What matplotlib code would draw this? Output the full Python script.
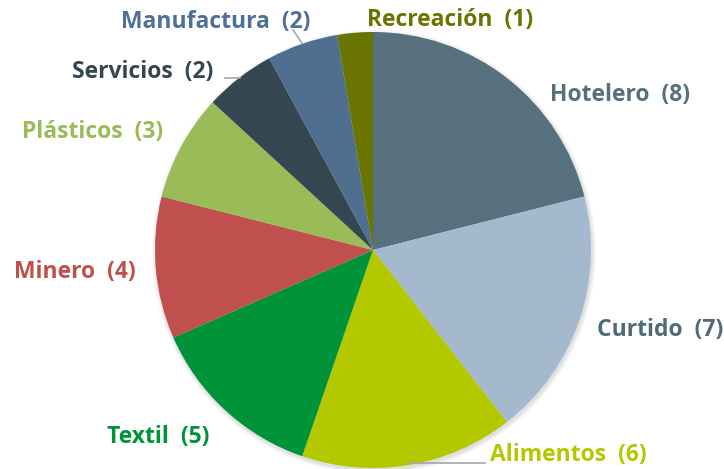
import matplotlib.pyplot as plt

sectors = ["Hotelero", "Curtido", "Alimentos", "Textil", "Minero",
           "Plásticos", "Servicios", "Manufactura", "Recreación"]
counts = [8, 7, 6, 5, 4, 3, 2, 2, 1]

colors = ["#56707E", "#A5B9CE", "#B4C800", "#009339", "#C0504D",
          "#9BBB59", "#344650", "#4F6F8F", "#6A7400"]
text_colors = ["#56707E", "#4F6A78", "#B4C800", "#009339", "#C0504D",
               "#9BBB59", "#344650", "#4F7096", "#6A7400"]

# label anchor (pixel coords, y from top) and alignment
label_pos = [(620, 95, "center"), (660, 330, "center"), (490, 455, "left"),
             (158, 437, "center"), (75, 272, "center"), (93, 132, "center"),
             (143, 72, "center"), (216, 22, "center"), (450, 20, "center")]

W, H = 724, 469
fig = plt.figure(figsize=(W / 100, H / 100), dpi=100)
ax = fig.add_axes([0, 0, 1, 1])
ax.set_xlim(0, W)
ax.set_ylim(0, H)
ax.set_aspect("equal")
ax.axis("off")

cx, cy, r = 373, H - 250, 218

# soft shadow
for i, a in enumerate([0.05, 0.04, 0.03]):
    sh = plt.Circle((cx + 1, cy - 2), r + 1 + i * 1.5, color="black", alpha=a, lw=0)
    ax.add_patch(sh)

ax.pie(counts, colors=colors, startangle=90, counterclock=False,
       center=(cx, cy), radius=r, wedgeprops=dict(linewidth=0))
ax.set_xlim(0, W)
ax.set_ylim(0, H)

for name, n, tc, (x, y, ha) in zip(sectors, counts, text_colors, label_pos):
    ax.text(x, H - y, f"{name}  ({n})", color=tc, fontsize=16.5, fontweight="bold",
            family="Open Sans", ha=ha, va="center")

# leader lines
line_kw = dict(color="#A6A6A6", lw=1.2)
ax.plot([293, 302], [H - 30, H - 43], **line_kw)
ax.plot([225, 240], [H - 78, H - 78], **line_kw)
ax.plot([410, 485], [H - 463, H - 463], **line_kw)

fig.savefig("out.png", dpi=100)
